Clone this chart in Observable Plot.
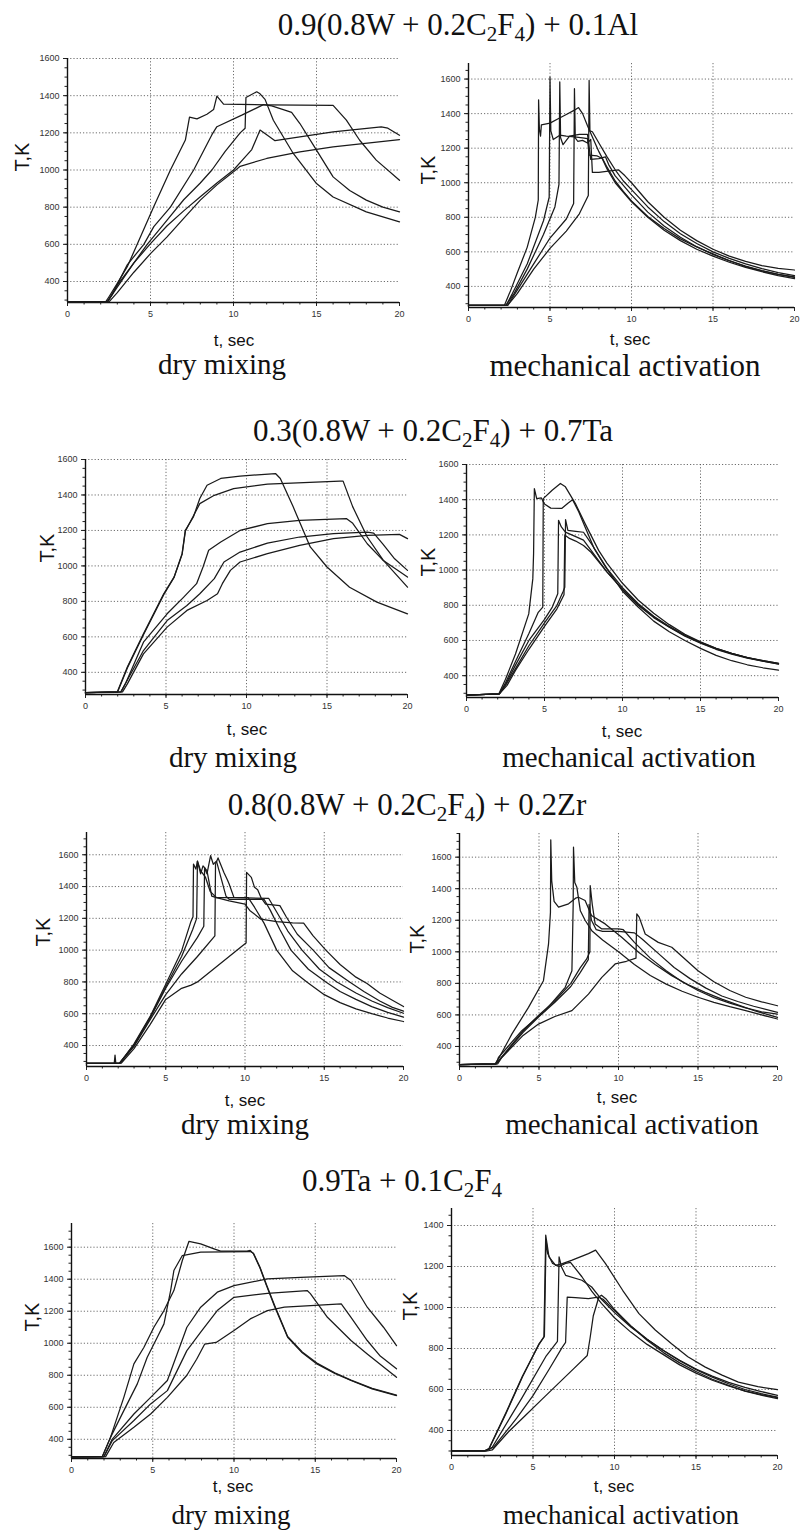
<!DOCTYPE html>
<html><head><meta charset="utf-8">
<script src="https://cdn.jsdelivr.net/npm/d3@7"></script>
<script src="https://cdn.jsdelivr.net/npm/@observablehq/plot@0.6"></script>
<style>
html,body{margin:0;padding:0;background:#fff;}
#root{position:relative;width:800px;height:1530px;overflow:hidden;background:#fff;}
.panel{position:absolute;}
.lbl{position:absolute;transform:translate(-50%,-50%);white-space:nowrap;z-index:2;color:#111;line-height:1;}
.serif{font-family:"Liberation Serif","Times New Roman",serif;}
.sans{font-family:"Liberation Sans",Arial,sans-serif;}
.rot{transform:translate(-50%,-50%) rotate(-90deg);}
sub{font-size:0.68em;vertical-align:-0.3em;line-height:0;}
</style></head><body><div id="root"></div>
<script>
// ---------- data (t in s, T in K) ----------
const rowTitles = [
  "0.9(0.8W + 0.2C<sub>2</sub>F<sub>4</sub>) + 0.1Al",
  "0.3(0.8W + 0.2C<sub>2</sub>F<sub>4</sub>) + 0.7Ta",
  "0.8(0.8W + 0.2C<sub>2</sub>F<sub>4</sub>) + 0.2Zr",
  "0.9Ta + 0.1C<sub>2</sub>F<sub>4</sub>"
];
const conditions = ["dry mixing", "mechanical activation"];
const xLabel = "t, sec";
const yLabel = "T,K";
const xTicks = [0, 5, 10, 15, 20];
const yTicks = [400, 600, 800, 1000, 1200, 1400, 1600];
const yTicksLow = [400, 600, 800, 1000, 1200, 1400];

const alDry = [
 [[0,290],[2.3,290],[2.5,318],[3.0,390],[3.6,480],[4.2,600],[5.2,803],[6.2,1000],[7.1,1161],[7.35,1285],[7.8,1275],[8.4,1300],[8.8,1325],[9.0,1398],[9.4,1355],[12,1350],[16,1348],[16.8,1268],[17.6,1160],[18.6,1053],[20,945]],
 [[0,290],[2.4,290],[2.7,330],[3.6,490],[4.6,600],[5.2,695],[6.2,800],[7.6,1000],[8.7,1190],[9.0,1233],[10.5,1295],[11.8,1352],[12.3,1345],[13.0,1325],[13.5,1310],[14.0,1250],[15,1107],[16,963],[17,890],[18,838],[19,800],[20,775]],
 [[0,290],[2.4,290],[3,380],[4,500],[4.8,600],[6,730],[7,840],[8,930],[8.7,1000],[9.5,1100],[10.4,1200],[10.7,1225],[10.75,1390],[11.4,1421],[11.6,1410],[11.9,1380],[12.4,1268],[13.6,1089],[15,927],[16,855],[18,775],[20,721]],
 [[0,290],[2.4,290],[3,370],[4,500],[5,604],[6,700],[7,780],[8,856],[9,930],[10,1000],[10.6,1060],[11.1,1110],[11.6,1215],[12.0,1190],[12.5,1158],[14,1178],[16,1205],[18.9,1232],[19.3,1225],[20,1187]],
 [[0,290],[2.5,290],[3,340],[4,450],[5,550],[6,640],[7,740],[8,838],[9,920],[10,990],[10.4,1020],[12,1062],[14,1098],[16,1125],[20,1164]]
];
const alMech = [
 [[0,290],[2.2,290],[2.6,380],[3.0,480],[3.6,626],[4.1,800],[4.28,900],[4.3,1480],[4.35,1310],[4.42,1270],[4.47,1335],[5.0,1345],[5.5,1370],[6.0,1395],[6.5,1420],[6.75,1435],[7.0,1400],[7.3,1330],[7.6,1265],[8,1180],[8.5,1090],[9,1010],[9.5,950],[10,895],[11,805],[12,735],[13,675],[14,628],[15,588],[16,550],[17,515],[18,490],[19,470],[20,455]],
 [[0,290],[2.3,290],[2.7,360],[3.6,530],[4.6,780],[4.95,916],[5.0,1611],[5.05,1300],[5.2,1250],[5.6,1275],[6.0,1270],[6.5,1265],[7.0,1260],[7.3,1255],[7.4,1160],[7.9,1155],[8.2,1140],[8.5,1080],[9,1000],[10,890],[11,800],[12,725],[13,665],[14,615],[15,575],[16,540],[17,510],[18,485],[19,463],[20,445]],
 [[0,290],[2.3,290],[2.8,360],[3.6,500],[4.6,700],[5.3,860],[5.55,990],[5.6,1583],[5.65,1260],[5.8,1220],[6.2,1270],[6.8,1280],[7.3,1280],[7.5,1135],[8.0,1140],[8.4,1150],[8.6,1105],[9,1040],[10,930],[11,830],[12,750],[13,685],[14,630],[15,585],[16,548],[17,518],[18,492],[19,470],[20,452]],
 [[0,290],[2.4,290],[3.0,380],[4,530],[5,680],[6,790],[6.45,880],[6.5,1544],[6.55,1260],[6.7,1240],[7.0,1245],[7.3,1230],[7.5,1250],[7.6,1060],[8.0,1060],[8.8,1070],[9.2,1075],[9.6,1040],[10,1000],[11,890],[12,800],[13,725],[14,665],[15,615],[16,575],[17,545],[18,520],[19,505],[20,495]],
 [[0,290],[2.4,290],[3.0,360],[4,500],[5,620],[6,720],[6.8,820],[7.35,926],[7.4,1592],[7.45,1300],[7.6,1295],[8.0,1230],[8.5,1150],[9,1075],[9.5,1010],[10,960],[11,860],[12,775],[13,705],[14,648],[15,600],[16,562],[17,530],[18,503],[19,480],[20,462]]
];
const taDry = [
 [[0,285],[1.96,287],[2.6,430],[3.6,617],[4.86,843],[5.5,937],[6.0,1069],[6.2,1200],[6.7,1276],[7.1,1380],[7.55,1455],[8.4,1493],[9.6,1506],[11.8,1521],[12.1,1493],[12.9,1333],[13.96,1107],[15,994],[16.4,880],[18.1,796],[20,730]],
 [[0,285],[2.0,290],[2.6,425],[3.6,612],[4.86,838],[5.5,935],[6.0,1065],[6.2,1195],[7.1,1351],[8.0,1398],[9.2,1436],[11.3,1461],[15.8,1478],[16.0,1478],[16.6,1333],[17.5,1163],[18.5,1031],[20,880]],
 [[0,285],[2.2,290],[2.5,340],[3.6,570],[5.07,730],[6.1,824],[6.9,900],[7.3,994],[7.65,1088],[8.4,1135],[9.6,1200],[11.3,1238],[13.3,1257],[16.2,1267],[16.6,1240],[17.5,1125],[18.5,1030],[20,937]],
 [[0,285],[2.2,290],[2.5,340],[3.6,523],[5.07,692],[6.3,777],[7.1,843],[8.0,928],[8.6,1022],[9.6,1078],[11.3,1129],[13.3,1163],[15.4,1182],[17.5,1191],[17.9,1185],[18.5,1120],[19.2,1040],[20,975]],
 [[0,285],[2.3,290],[2.6,335],[3.6,504],[5.07,655],[6.3,749],[7.55,805],[8.2,843],[8.5,900],[9.0,975],[9.6,1022],[11.3,1069],[13.3,1116],[15.4,1154],[17.5,1172],[19.5,1178],[20,1154]]
];
const taMech = [
 [[0,290],[2.07,296],[2.5,380],[3.14,523],[3.99,751],[4.25,950],[4.3,1093],[4.35,1463],[4.5,1406],[4.8,1410],[5.0,1375],[5.4,1352],[6.1,1350],[6.5,1380],[6.8,1400],[7.2,1330],[7.6,1245],[8.2,1120],[8.9,1020],[10,880],[11,790],[12,710],[13,650],[14,600],[15,555],[16,515],[17,485],[18,462],[19,445],[20,432]],
 [[0,290],[2.1,296],[2.5,360],[3.14,480],[4,640],[4.6,760],[4.89,790],[4.92,1406],[5.49,1454],[6.02,1492],[6.34,1473],[6.98,1378],[7.6,1264],[8.47,1112],[9,1040],[10,925],[11,830],[12,755],[13,690],[14,635],[15,592],[16,556],[17,527],[18,503],[19,485],[20,470]],
 [[0,290],[2.1,296],[2.5,350],[3.14,460],[4,600],[5,720],[5.5,790],[5.85,865],[5.9,1283],[6.08,1245],[6.34,1216],[7,1190],[7.5,1170],[8,1110],[9,990],[10,890],[11,800],[12,730],[13,675],[14,625],[15,585],[16,550],[17,523],[18,500],[19,482],[20,466]],
 [[0,290],[2.1,296],[2.5,345],[3.14,440],[4,570],[5,700],[5.8,800],[6.2,880],[6.3,903],[6.35,1287],[6.5,1225],[7,1220],[7.5,1215],[8,1150],[9,1010],[10,900],[11,810],[12,738],[13,680],[14,630],[15,590],[16,555],[17,527],[18,503],[19,485],[20,470]],
 [[0,290],[2.1,296],[2.6,345],[3.14,430],[4,550],[5,680],[5.8,780],[6.25,860],[6.3,1200],[6.6,1180],[7,1165],[7.5,1140],[8,1100],[9,990],[10,890],[11,805],[12,735],[13,677],[14,628],[15,587],[16,552],[17,525],[18,502],[19,483],[20,467]]
];
const zrDry = [
 [[0,288],[1.75,288],[1.8,340],[1.85,288],[2.1,290],[3,410],[4,580],[5,785],[6,995],[6.57,1175],[6.72,1210],[6.75,1541],[6.9,1510],[7.0,1560],[7.2,1480],[7.35,1530],[7.6,1500],[7.9,1340],[8.2,1330],[10.2,1330],[10.6,1270],[11.2,1170],[12,1000],[13,870],[13.9,800],[15,720],[16,670],[17,630],[18,600],[19,573],[20,551]],
 [[0,288],[2.1,290],[3,400],[4,570],[5,760],[6,930],[7,1080],[7.4,1150],[7.45,1520],[7.6,1480],[7.83,1594],[8.0,1540],[8.2,1560],[8.5,1450],[8.8,1340],[9.0,1320],[11.2,1320],[11.6,1250],[12.2,1130],[12.9,1000],[14,880],[15.1,800],[16,740],[17,690],[18,645],[19,608],[20,578]],
 [[0,288],[2.1,290],[3,395],[4,560],[5,720],[6,850],[7,960],[8.1,1090],[8.14,1541],[8.3,1580],[8.67,1489],[8.9,1440],[9.0,1416],[9.3,1332],[9.6,1330],[11.5,1325],[12,1240],[12.7,1120],[13.6,1000],[14.7,880],[15.8,800],[17,730],[18,680],[19,638],[20,603]],
 [[0,288],[2.2,290],[3,380],[4,530],[5,690],[6,760],[6.6,780],[7,800],[8,880],[9,960],[10,1040],[10.07,1045],[10.1,1489],[10.4,1458],[10.6,1395],[10.8,1380],[11.0,1332],[11.3,1290],[12.2,1280],[12.6,1210],[13.3,1100],[14.3,1000],[15.3,890],[16.6,800],[17.5,740],[18.5,680],[19.3,640],[20,616]],
 [[0,288],[2.1,290],[3,405],[4,575],[5,770],[6,960],[6.7,1130],[6.95,1200],[7.0,1560],[7.2,1500],[7.5,1460],[7.8,1370],[8.2,1330],[9,1310],[10,1290],[10.3,1250],[11,1195],[12,1180],[13,1172],[13.7,1170],[14.3,1090],[15.1,1000],[16,910],[17,830],[17.7,790],[18.5,730],[19.3,685],[20,645]]
];
const zrMech = [
 [[0,285],[2.24,290],[2.5,330],[3.29,478],[4.34,648],[5.28,817],[5.6,1050],[5.72,1250],[5.74,1710],[5.8,1450],[5.95,1320],[6.23,1283],[6.86,1304],[7.3,1340],[7.48,1346],[7.9,1325],[8.3,1230],[9.16,1177],[10.2,1092],[11.26,997],[12.3,920],[13.35,849],[14.4,790],[15.45,743],[16.5,700],[17.55,662],[18.6,625],[20,584]],
 [[0,285],[2.3,290],[2.45,330],[3.92,500],[5.39,627],[6.65,775],[7.07,880],[7.15,1300],[7.17,1663],[7.25,1440],[7.38,1410],[7.6,1260],[7.9,1200],[8.32,1134],[9,1075],[10,1000],[11,920],[12,850],[13,795],[14,750],[15,712],[16,680],[17,652],[18,627],[19,600],[20,574]],
 [[0,285],[2.3,290],[2.87,360],[4,500],[5,600],[6,690],[7,800],[7.6,900],[8.0,955],[8.2,1000],[8.22,1420],[8.35,1300],[8.53,1177],[8.95,1145],[10.0,1145],[10.3,1140],[11,1060],[12,960],[13,880],[14,810],[15,755],[16,710],[17,675],[18,645],[19,620],[20,605]],
 [[0,285],[2.3,290],[2.9,360],[4,490],[5,590],[6,680],[7,780],[7.6,870],[8.1,950],[8.15,1300],[8.3,1200],[8.6,1140],[9,1130],[10,1130],[11,1120],[11.5,1080],[12.5,990],[13.5,900],[14.5,830],[15.5,770],[16.5,720],[17.5,685],[18.5,655],[20,616]],
 [[0,285],[2.4,290],[2.66,330],[4,470],[4.97,542],[6,590],[7.07,627],[8.11,732],[8.95,838],[9.79,923],[10.5,940],[11.1,960],[11.15,1240],[11.3,1220],[11.68,1113],[12.5,1060],[13.35,1029],[14,970],[15,880],[16,810],[17,755],[18,712],[19,683],[20,658]]
];
const ta2Dry = [
 [[0,290],[1.9,292],[2.4,412],[3.22,662],[3.84,871],[4.46,975],[5.07,1100],[5.69,1204],[6.3,1329],[6.82,1517],[7.23,1637],[7.95,1621],[8.77,1590],[9.18,1575],[10.8,1575],[11.0,1580],[11.2,1558],[11.6,1470],[12.0,1360],[12.5,1230],[13.3,1037],[14.2,940],[15.1,871],[16.2,812],[17.2,767],[18.5,715],[20,673]],
 [[0,290],[1.9,292],[2.4,412],[3.22,579],[4.05,746],[4.66,912],[5.28,1037],[5.69,1121],[6.1,1329],[6.3,1454],[6.82,1548],[7.95,1569],[11.0,1573],[11.2,1562],[11.6,1475],[12.0,1365],[12.5,1236],[13.3,1042],[14.2,945],[15.1,876],[16.2,816],[17.2,770],[18.5,718],[20,676]],
 [[0,290],[2.0,292],[2.5,400],[3.84,558],[4.87,662],[5.9,767],[6.5,933],[7.1,1100],[7.95,1225],[8.97,1319],[10,1360],[12.05,1402],[14.1,1412],[16.78,1423],[17.2,1392],[18.2,1225],[19.2,1100],[20,985]],
 [[0,290],[2.0,292],[2.5,390],[3.84,517],[4.87,621],[5.9,704],[6.5,829],[7.1,954],[7.95,1069],[8.97,1204],[10,1287],[12.05,1312],[14.5,1329],[14.7,1310],[15.75,1162],[17.2,1017],[18.2,933],[20,787]],
 [[0,290],[2.1,292],[2.6,380],[3.84,475],[4.87,558],[5.9,662],[7.1,800],[7.7,900],[8.2,995],[8.9,1005],[10,1079],[11,1152],[12.05,1204],[13.1,1225],[16.6,1246],[17.2,1162],[18.2,1017],[19,920],[20,840]]
];
const ta2Mech = [
 [[0,300],[2.0,300],[2.3,310],[3.33,481],[4.35,661],[5.37,823],[5.67,856],[5.78,1353],[5.98,1247],[6.39,1206],[6.8,1214],[7.4,1231],[8.4,1263],[8.84,1280],[9.45,1214],[10.5,1084],[11.5,970],[12.5,890],[13.5,823],[14.5,760],[15.57,709],[16.6,670],[17.6,636],[18.8,614],[20,599]],
 [[0,300],[2.0,300],[2.3,312],[3.33,485],[4.35,665],[5.37,820],[5.7,860],[5.8,1330],[5.9,1263],[6.2,1215],[6.6,1200],[7.0,1215],[7.3,1220],[8,1150],[8.6,1080],[9.2,1020],[10,950],[11,880],[12,820],[13,770],[14,720],[15,680],[16,645],[17,617],[18,593],[19,575],[20,560]],
 [[0,300],[2.1,300],[2.5,318],[4.35,563],[5.78,760],[6.5,835],[6.6,1247],[6.75,1198],[7.0,1157],[8.0,1133],[8.6,1100],[9.2,1040],[10,975],[11,905],[12,845],[13,790],[14,742],[15,700],[16,665],[17,635],[18,610],[19,590],[20,571]],
 [[0,300],[2.1,300],[2.6,320],[4,460],[5,570],[6,700],[6.8,807],[7.0,830],[7.1,1051],[7.6,1048],[8.4,1043],[9.0,1051],[9.3,1040],[10,985],[11,910],[12,845],[13,790],[14,740],[15,697],[16,660],[17,628],[18,600],[19,580],[20,563]],
 [[0,300],[2.2,300],[2.5,305],[3.5,394],[4.5,471],[5.5,548],[6.5,625],[7.5,702],[8.33,766],[8.5,850],[8.7,960],[9.04,1051],[9.2,1060],[9.5,1040],[10,990],[11,910],[12,840],[13,780],[14,730],[15,688],[16,650],[17,620],[18,592],[19,572],[20,555]]
];

// ---------- layout (pixel frame of each panel) ----------
const panels = [
 {curves:alDry,   x0:67,  x20:399, top:58,   bot:302,  ymin:287, ymax:1600, yt:yTicks, row:0, col:0},
 {curves:alMech,  x0:468, x20:794, top:63,   bot:307,  ymin:278, ymax:1690, yt:yTicks, row:0, col:1},
 {curves:taDry,   x0:85,  x20:407, top:459,  bot:694,  ymin:275, ymax:1600, yt:yTicks, row:1, col:0},
 {curves:taMech,  x0:466, x20:778, top:464,  bot:697,  ymin:276, ymax:1600, yt:yTicks, row:1, col:1},
 {curves:zrDry,   x0:86,  x20:403, top:832,  bot:1066, ymin:268, ymax:1740, yt:yTicks, row:2, col:0},
 {curves:zrMech,  x0:459, x20:777, top:833,  bot:1066, ymin:273, ymax:1750, yt:yTicks, row:2, col:1},
 {curves:ta2Dry,  x0:71,  x20:396, top:1223, bot:1458, ymin:280, ymax:1748, yt:yTicks, row:3, col:0},
 {curves:ta2Mech, x0:451, x20:777, top:1208, bot:1455, ymin:278, ymax:1483, yt:yTicksLow, row:3, col:1}
];
const titlePos = [[458,24],[433,430],[407,804],[402,1180]];
const tsecPos = [[234,340],[630,339],[247,729],[622,731],[245,1100],[617,1097],[233,1486],[614,1486]];
const condPos = [[222,364],[625,365],[233,757],[629,757],[245,1124],[632,1124],[231,1515],[621,1515]];
const tkPos = [[22,157],[428,170],[47,548],[428,562],[43,932],[417,939],[32,1317],[410,1306]];

const root = document.getElementById("root");
function addLabel(html, x, y, cls, size){
  const d = document.createElement("div");
  d.className = "lbl " + cls;
  d.style.left = x + "px"; d.style.top = y + "px"; d.style.fontSize = size + "px";
  d.innerHTML = html;
  root.appendChild(d);
}

const xMinor = d3.range(0, 20.001, 1);
panels.forEach((p, i) => {
  const ML = 48, MR = Math.min(12, 800 - p.x20 - 2), MT = 8, MB = 24;
  const rows = p.curves.flatMap((c, k) => c.map(([t, T]) => ({t, T, k})));
  const yMinor = d3.range(Math.ceil(p.ymin / 50) * 50, p.ymax + 0.1, 50);
  const svg = Plot.plot({
    width: ML + (p.x20 - p.x0) + MR,
    height: MT + (p.bot - p.top) + MB,
    marginLeft: ML, marginRight: MR, marginTop: MT, marginBottom: MB,
    style: {background: "transparent", fontFamily: "'Liberation Sans', Arial, sans-serif", color: "#333", overflow: "visible"},
    x: {domain: [0, 20]},
    y: {domain: [p.ymin, p.ymax]},
    marks: [
      Plot.gridX([5, 10, 15], {stroke: "#555", strokeOpacity: 0.85, strokeDasharray: "1.2,2"}),
      Plot.gridY(p.yt, {stroke: "#555", strokeOpacity: 0.85, strokeDasharray: "1.2,2"}),
      Plot.axisX(xMinor, {tickSize: 2.5, tickFormat: () => "", label: null, stroke: "#222"}),
      Plot.axisX(xTicks, {tickSize: 4, tickPadding: 4, fontSize: 9, label: null, tickFormat: d => String(d), stroke: "#222", textAnchor: "middle"}),
      Plot.axisY(yMinor, {tickSize: 2.5, tickFormat: () => "", label: null, stroke: "#222"}),
      Plot.axisY(p.yt, {tickSize: 4, tickPadding: 4, fontSize: 9, label: null, tickFormat: d => String(d), stroke: "#222"}),
      Plot.ruleX([0], {stroke: "#111", strokeWidth: 1.4}),
      Plot.ruleY([p.ymin], {stroke: "#111", strokeWidth: 1.4}),
      Plot.line(rows, {x: "t", y: "T", z: "k", stroke: "#1a1a1a", strokeWidth: 1.25})
    ]
  });
  svg.classList.add("panel");
  svg.style.left = (p.x0 - ML) + "px";
  svg.style.top = (p.top - MT) + "px";
  root.appendChild(svg);

  addLabel(yLabel, tkPos[i][0], tkPos[i][1], "sans rot", 20);
  addLabel(xLabel, tsecPos[i][0], tsecPos[i][1], "sans", 17);
  addLabel(conditions[p.col], condPos[i][0], condPos[i][1], "serif", p.row === 3 ? 27 : (p.col === 1 && p.row === 0 ? 31 : 29));
});
rowTitles.forEach((t, r) => addLabel(t, titlePos[r][0], titlePos[r][1], "serif", 31));
</script></body></html>
